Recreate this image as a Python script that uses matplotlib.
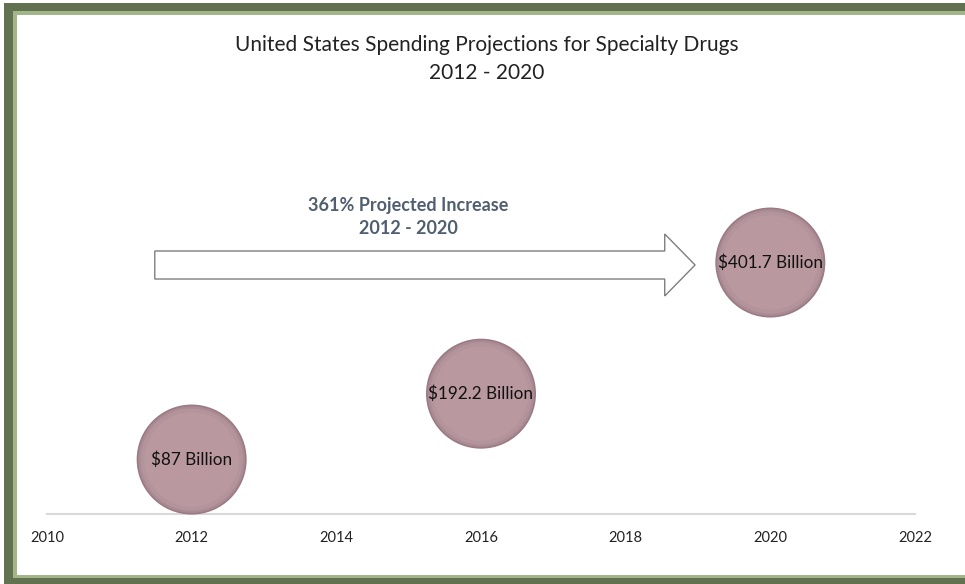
import matplotlib
matplotlib.use("Agg")
import matplotlib.pyplot as plt
from matplotlib.patches import Rectangle, FancyArrow

# data
years = [2012, 2016, 2020]
spending = [87, 192.2, 401.7]  # $ billion
labels = ["$87 Billion", "$192.2 Billion", "$401.7 Billion"]
xticks = [2010, 2012, 2014, 2016, 2018, 2020, 2022]

W, H = 965, 584
FONT = ["Lato", "DejaVu Sans"]

fig = plt.figure(figsize=(W / 100, H / 100), dpi=100)
fig.patch.set_facecolor("white")

def px(x, y, w, h):
    return (x / W, 1 - (y + h) / H, w / W, h / H)

# green picture frame
for (x, y, w, h, c) in [(4, 3, 980, 600, "#627150"),
                        (13, 11, 960, 567, "#a3b68a"),
                        (17, 15, 960, 560, "white")]:
    fx, fy, fw, fh = px(x, y, w, h)
    fig.patches.append(Rectangle((fx, fy), fw, fh, transform=fig.transFigure,
                                 facecolor=c, edgecolor="none", zorder=-1))

# axes: 2010 -> x=47px, 2022 -> x=915px ; y=0 -> 514px, y=500 -> 201px
ax = fig.add_axes(px(47, 201, 868, 313))
ax.set_zorder(2)
ax.set_facecolor("none")
ax.set_xlim(2010, 2022)
ax.set_ylim(0, 500)
ax.set_yticks([])
for s in ["left", "right", "top"]:
    ax.spines[s].set_visible(False)
ax.spines["bottom"].set_color("#d9d9d9")
ax.spines["bottom"].set_linewidth(1.5)
ax.set_xticks(xticks)
ax.set_xticklabels([str(t) for t in xticks], fontsize=10.5, color="#222222",
                   family=FONT)
ax.tick_params(axis="x", length=0, pad=12)

# bubbles with simple layered shading
base = 110 * 0.72
layers = [(1.00, "#9a7a83"), (0.97, "#aa8a93"), (0.93, "#b4949c"),
          (0.86, "#b9999f")]
for f, c in layers:
    ax.scatter(years, spending, s=(base * f) ** 2, color=c, edgecolors="none",
               zorder=3, clip_on=False)
for x, y, lab in zip(years, spending, labels):
    ax.text(x, y, lab, ha="center", va="center", fontsize=12.3, color="#111111",
            family=FONT, zorder=5)

# titles
fig.text(487 / W, 1 - 45 / H, "United States Spending Projections for Specialty Drugs",
         ha="center", va="center", fontsize=15, color="#222222", family=FONT)
fig.text(487 / W, 1 - 73 / H, "2012 - 2020", ha="center", va="center",
         fontsize=15, color="#222222", family=FONT)

# arrow annotation
ax.add_patch(FancyArrow(2011.49, (514 - 265) / 0.626, 7.47, 0, width=28 / 0.626,
                        head_width=62 / 0.626, head_length=0.42,
                        length_includes_head=True, facecolor="white",
                        edgecolor="#7f7f7f", linewidth=1.0, zorder=2,
                        clip_on=False))
fig.text(408 / W, 1 - 206 / H, "361% Projected Increase", ha="center", va="center",
         fontsize=13, fontweight="bold", color="#4f5f70", family=FONT)
fig.text(408 / W, 1 - 228 / H, "2012 - 2020", ha="center", va="center",
         fontsize=13, fontweight="bold", color="#4f5f70", family=FONT)

fig.savefig("out.png", dpi=100)
